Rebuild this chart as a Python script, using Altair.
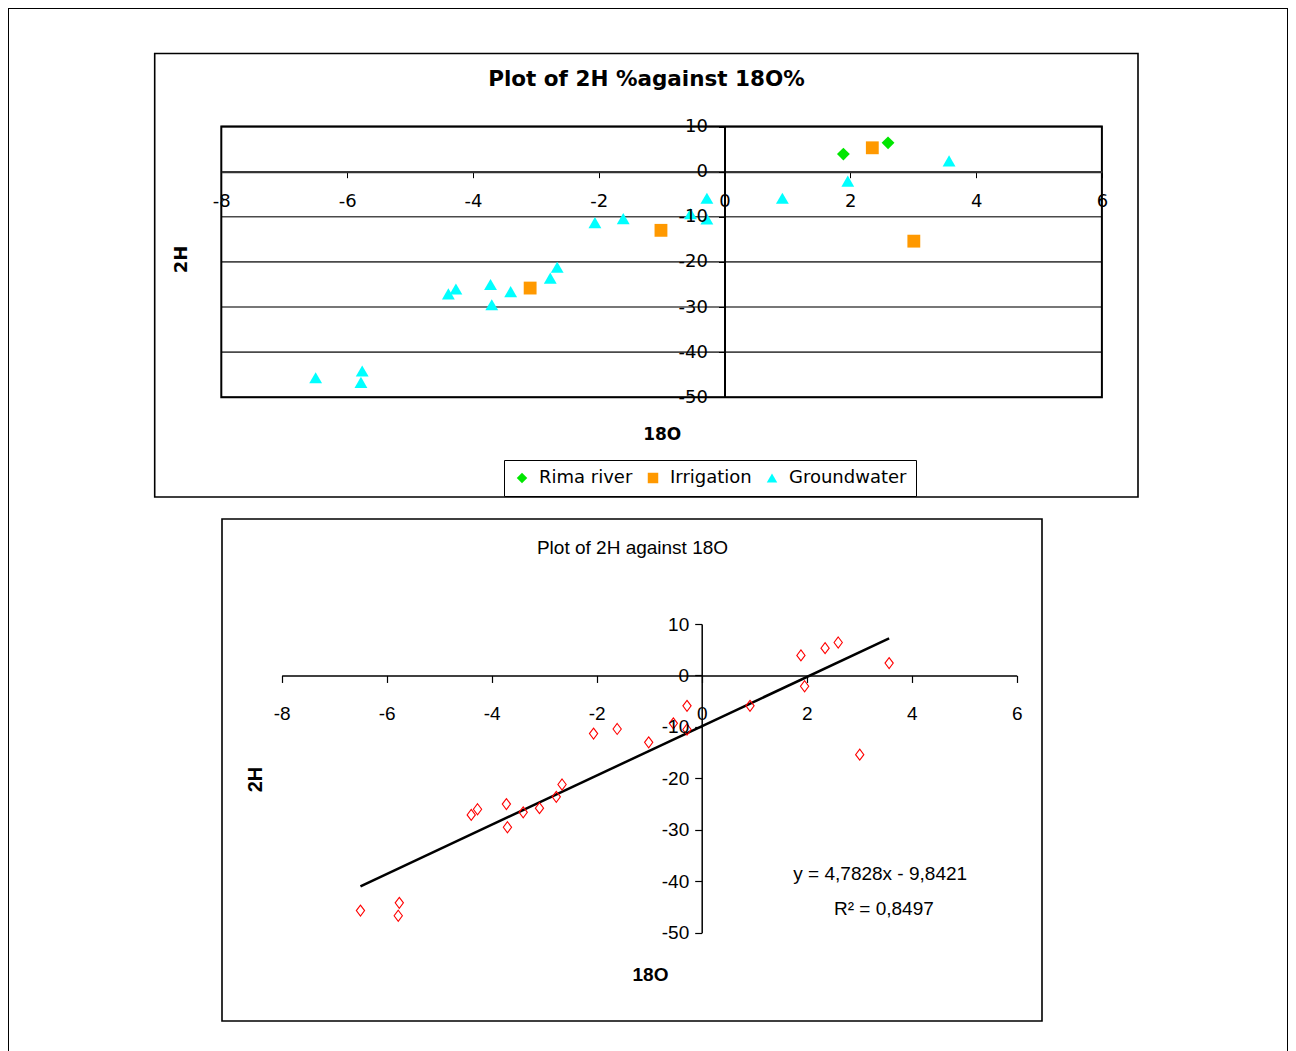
import altair as alt
import pandas as pd

# ---------------- data ----------------
series_names = ["Rima river", "Irrigation", "Groundwater"]
rima_x = [1.89, 2.60]
rima_y = [3.9, 6.4]
irrigation_x = [-3.09, -1.01, 2.35, 3.01]
irrigation_y = [-25.8, -13.0, 5.3, -15.4]
groundwater_x = [-6.50, -5.76, -5.78, -4.39, -4.27, -3.72, -3.70, -3.40, -2.77,
                 -2.66, -2.06, -1.61, -0.54, -0.28, -0.28, 0.92, 1.96, 3.57]
groundwater_y = [-45.7, -44.2, -46.7, -27.1, -26.0, -25.0, -29.5, -26.6, -23.6,
                 -21.2, -11.3, -10.4, -9.3, -5.9, -10.5, -5.9, -2.1, 2.4]

x_ticks = [-8, -6, -4, -2, 0, 2, 4, 6]
y_ticks = [-50, -40, -30, -20, -10, 0, 10]

top_title = "Plot of 2H %against 18O%"
bottom_title = "Plot of 2H against 18O"
x_title = "18O"
y_title = "2H"
equation_text = ["y = 4,7828x - 9,8421", "R\u00b2 = 0,8497"]

# ---------------- layout (pixels, relative to the outer frame) ----------------
W, H = 1280, 1050
TOP_XR = [213.3, 1093.9]
TOP_YR = [389.2, 118.6]
BOT_XR = [273.7, 1008.7]
BOT_YR = [924.7, 616.0]
XD = [x_ticks[0], x_ticks[-1]]
YD = [y_ticks[0], y_ticks[-1]]
EQ_X = [3.40, 3.47]
EQ_Y = [-38.6, -45.4]


def px(rng, dom, v):
    return rng[0] + (v - dom[0]) / (dom[1] - dom[0]) * (rng[1] - rng[0])


top_x0 = px(TOP_XR, XD, 0)
top_y0 = px(TOP_YR, YD, 0)
bot_x0 = px(BOT_XR, XD, 0)
bot_y0 = px(BOT_YR, YD, 0)

TOP_FONT = "DejaVu Sans"
BOT_FONT = "Liberation Sans"

one = pd.DataFrame({"a": [0]})


def box(x1, x2, y1, y2):
    return alt.Chart(one).mark_rect(fillOpacity=0, stroke="black", strokeWidth=1.6).encode(
        x=alt.value(x1), x2=alt.value(x2), y=alt.value(y1), y2=alt.value(y2))


box_top = box(146.7, 1130, 45.5, 489)
box_bot = box(214, 1034, 511, 1013)

# ---------------- top chart ----------------
def xs_top():
    return alt.Scale(domain=XD, range=TOP_XR, nice=False, zero=False)


def ys_top():
    return alt.Scale(domain=YD, range=TOP_YR, nice=False, zero=False)


top_df = pd.DataFrame({
    "x": rima_x + irrigation_x + groundwater_x,
    "y": rima_y + irrigation_y + groundwater_y,
    "series": [series_names[0]] * len(rima_x) + [series_names[1]] * len(irrigation_x)
    + [series_names[2]] * len(groundwater_x),
})

grid_df = pd.DataFrame({"y": y_ticks, "x1": [XD[0]] * len(y_ticks), "x2": [XD[1]] * len(y_ticks)})
top_grid = alt.Chart(grid_df).mark_rule(color="#4a4a4a", strokeWidth=1.6).encode(
    x=alt.X("x1:Q", scale=xs_top(), axis=None), x2="x2:Q",
    y=alt.Y("y:Q", scale=ys_top(), axis=None))

frame_df = pd.DataFrame({"x1": [XD[0]], "x2": [XD[1]], "y1": [YD[0]], "y2": [YD[1]]})
top_frame = alt.Chart(frame_df).mark_rect(fillOpacity=0, stroke="black", strokeWidth=2).encode(
    x=alt.X("x1:Q", scale=xs_top(), axis=None), x2="x2:Q",
    y=alt.Y("y1:Q", scale=ys_top(), axis=None), y2="y2:Q")

ax_top_x = alt.Axis(orient="bottom", offset=top_y0 - H, values=x_ticks, grid=False,
                    domainColor="#333333", domainWidth=2, tickColor="black", tickSize=6,
                    tickWidth=1, labelFont=TOP_FONT, labelFontSize=18, labelColor="black",
                    labelPadding=15, labelFlush=False, labelOverlap=False,
                    zindex=1, title=x_title, titleFont=TOP_FONT, titleFontSize=17,
                    titleFontWeight="bold", titleColor="black", titleX=653.7, titleY=262.5,
                    titleAlign="center", titleBaseline="middle")
ax_top_y = alt.Axis(orient="left", offset=-top_x0, values=y_ticks, grid=False,
                    domainColor="black", domainWidth=2, tickColor="black", tickSize=6,
                    tickWidth=1, labelFont=TOP_FONT, labelFontSize=18, labelColor="black",
                    labelPadding=11, labelFlush=False, labelOverlap=False,
                    zindex=1, title=y_title, titleFont=TOP_FONT, titleFontSize=18,
                    titleFontWeight="bold", titleColor="black", titleAngle=270,
                    titleX=173 - top_x0, titleY=251, titleAlign="center", titleBaseline="middle")

legend_top = alt.Legend(title=None, orient="none", legendX=496, legendY=452,
                        direction="horizontal", strokeColor="black", fillColor="white",
                        padding=9, labelFont=TOP_FONT, labelFontSize=18, labelColor="black",
                        symbolSize=110, symbolStrokeWidth=0, labelOffset=8, columnPadding=11)

top_points = alt.Chart(top_df).mark_point(filled=True, opacity=1, size=165).encode(
    x=alt.X("x:Q", scale=xs_top(), axis=ax_top_x),
    y=alt.Y("y:Q", scale=ys_top(), axis=ax_top_y),
    color=alt.Color("series:N", scale=alt.Scale(domain=series_names,
                                                range=["#00e600", "#ff9900", "#00ffff"]),
                    legend=legend_top),
    shape=alt.Shape("series:N", scale=alt.Scale(domain=series_names,
                                                range=["diamond", "square", "triangle-up"]),
                    legend=legend_top),
)

# ---------------- bottom chart ----------------
def xs_bot():
    return alt.Scale(domain=XD, range=BOT_XR, nice=False, zero=False)


def ys_bot():
    return alt.Scale(domain=YD, range=BOT_YR, nice=False, zero=False)


bot_df = pd.DataFrame({
    "x": rima_x + irrigation_x + groundwater_x,
    "y": rima_y + irrigation_y + groundwater_y,
})

ax_bot_x = alt.Axis(orient="bottom", offset=bot_y0 - H, values=x_ticks, grid=False,
                    domainColor="black", domainWidth=1.5, tickColor="black", tickSize=7,
                    tickWidth=1.2, labelFont=BOT_FONT, labelFontSize=19, labelColor="black",
                    labelPadding=22, labelFlush=False, labelOverlap=False,
                    zindex=1, title=x_title, titleFont=BOT_FONT, titleFontSize=19,
                    titleFontWeight="bold", titleColor="black", titleX=642, titleY=298.8,
                    titleAlign="center", titleBaseline="middle")
ax_bot_y = alt.Axis(orient="left", offset=-bot_x0, values=y_ticks, grid=False,
                    domainColor="black", domainWidth=1.5, tickColor="black", tickSize=7,
                    tickWidth=1.2, labelFont=BOT_FONT, labelFontSize=19, labelColor="black",
                    labelPadding=6, labelFlush=False, labelOverlap=False,
                    zindex=1, title=y_title, titleFont=BOT_FONT, titleFontSize=20,
                    titleFontWeight="bold", titleColor="black", titleAngle=270,
                    titleX=247 - bot_x0, titleY=771, titleAlign="center", titleBaseline="middle")

DIAMOND = "M0,-1L0.75,0L0,1L-0.75,0Z"
bot_points = alt.Chart(bot_df).mark_point(shape=DIAMOND, filled=False, color="#ff0000",
                                          size=121, strokeWidth=1.1, opacity=1).encode(
    x=alt.X("x:Q", scale=xs_bot(), axis=ax_bot_x),
    y=alt.Y("y:Q", scale=ys_bot(), axis=ax_bot_y))

bot_line = alt.Chart(bot_df).transform_regression("x", "y").mark_line(
    color="black", strokeWidth=2.5).encode(
    x=alt.X("x:Q", scale=xs_bot(), axis=None),
    y=alt.Y("y:Q", scale=ys_bot(), axis=None))

eq_df = pd.DataFrame({"t": equation_text, "x": EQ_X, "y": EQ_Y})
bot_eq = alt.Chart(eq_df).mark_text(font=BOT_FONT, fontSize=19, color="black",
                                    align="center", baseline="middle").encode(
    x=alt.X("x:Q", scale=xs_bot(), axis=None),
    y=alt.Y("y:Q", scale=ys_bot(), axis=None),
    text="t:N")

title_top = alt.Chart(one).mark_text(font=TOP_FONT, fontSize=21.5, fontWeight="bold",
                                     color="black", align="center", baseline="middle").encode(
    x=alt.value(638.5), y=alt.value(72), text=alt.value(top_title))
title_bot = alt.Chart(one).mark_text(font=BOT_FONT, fontSize=19, color="black",
                                     align="center", baseline="middle").encode(
    x=alt.value(624.5), y=alt.value(540), text=alt.value(bottom_title))

chart = alt.layer(box_top, box_bot, top_grid, top_frame, top_points,
                  bot_line, bot_points, bot_eq, title_top, title_bot).resolve_scale(
    x="independent", y="independent"
).properties(
    width=W, height=H, padding=0, autosize=alt.AutoSizeParams(type="none")
).configure(
    locale=alt.Locale(number=alt.NumberLocale(decimal=".", thousands=",", grouping=[3],
                                              currency=["$", ""], minus="-"))
).configure_view(stroke="black", strokeWidth=2)

chart.save("out.html", embed_options={"renderer": "svg", "actions": False})
